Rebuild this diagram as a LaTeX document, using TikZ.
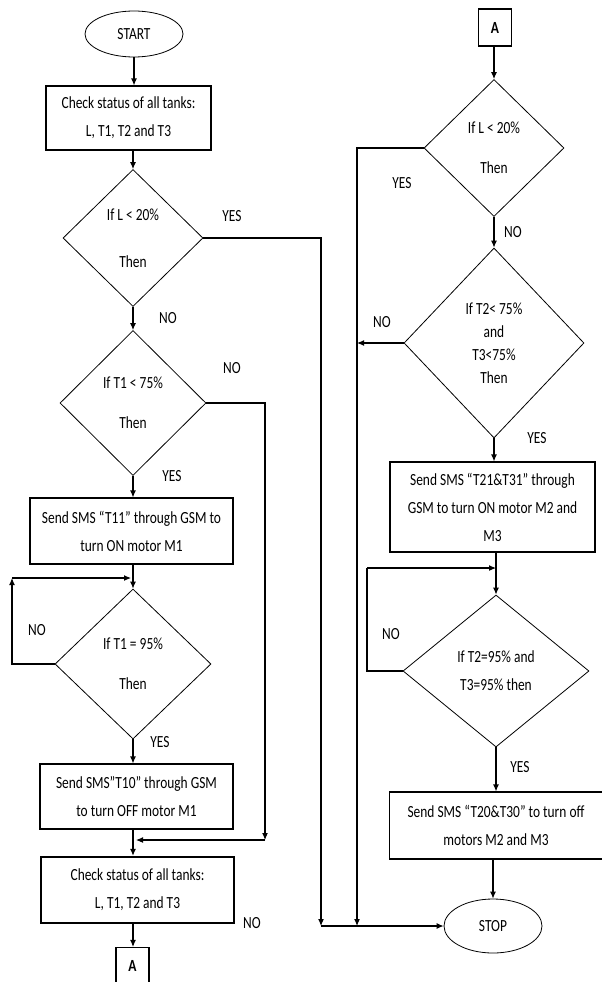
\documentclass[tikz,border=0pt]{standalone}
\usepackage{fontspec}
\setmainfont{Carlito}[FakeStretch=0.79]
\usepackage{tikz}
\usetikzlibrary{arrows.meta,positioning,calc,shapes.geometric}
\tikzset{
  flowln/.style={line width=1.1pt, line join=miter},
  arrln/.style={-{Latex[length=7pt,width=6pt]}, line width=1.1pt},
  procbox/.style={draw, line width=1.1pt, align=center, inner sep=2pt, font=\fontsize{17}{28}\selectfont},
  decide/.style={draw, diamond, line width=0.8pt, inner sep=0pt, align=center, font=\fontsize{17}{18}\selectfont},
  termin/.style={draw, ellipse, line width=0.8pt, font=\fontsize{17}{18}\selectfont},
  conbox/.style={draw, line width=1.1pt, font=\bfseries\fontsize{17}{18}\selectfont, minimum width=33pt, minimum height=37pt},
  lbl/.style={font=\fontsize{17}{18}\selectfont, inner sep=0pt},
}

\begin{document}
\begin{tikzpicture}[x=1pt, y=-1pt]
  \useasboundingbox (0,0) rectangle (602,982);
  % left column
  \node[termin, minimum width=98pt, minimum height=46pt] (start) at (134,34) {START};
  \node[procbox, minimum width=165pt, minimum height=64pt] (chk1) at (128.5,118) {Check status of all tanks:\\L, T1, T2 and T3};
  \node[decide, minimum width=140pt, minimum height=137pt] (dL1) at (133,238) {If L < 20\%\\[29pt]Then};
  \node[decide, minimum width=146pt, minimum height=145pt] (dT1a) at (133,403) {If T1 < 75\%\\[22pt]Then};
  \node[procbox, minimum width=203pt, minimum height=66pt] (smsOn1) at (131.5,531) {Send SMS “T11” through GSM to\\turn ON motor M1};
  \node[decide, minimum width=156pt, minimum height=150pt] (dT1b) at (133,664) {If T1 = 95\%\\[22pt]Then};
  \node[procbox, minimum width=193pt, minimum height=65pt] (smsOff1) at (136.5,796.5) {Send SMS”T10” through GSM\\to turn OFF motor M1};
  \node[procbox, line width=2.4pt, minimum width=193pt, minimum height=66pt] (chk2) at (137.5,890) {Check status of all tanks:\\L, T1, T2 and T3};
  \node[conbox] (conA1) at (132.5,966) {A};
  % right column
  \node[conbox] (conA2) at (495,27.5) {A};
  \node[decide, minimum width=140pt, minimum height=137pt] (dL2) at (494,148) {If L < 20\%\\[22pt]Then};
  \node[decide, minimum width=180pt, minimum height=190pt] (dT23a) at (494,343) {If T2< 75\%\\[5pt]and\\[5pt]T3<75\%\\[5pt]Then};
  \node[procbox, minimum width=205pt, minimum height=90pt] (smsOn23) at (492.5,507) {Send SMS “T21\&T31” through\\GSM to turn ON motor M2 and\\M3};
  \node[decide, minimum width=186pt, minimum height=152pt] (dT23b) at (496,671) {If T2=95\% and\\[10pt]T3=95\% then};
  \node[procbox, minimum width=213pt, minimum height=67pt] (smsOff23) at (496,825.5) {Send SMS “T20\&T30” to turn off\\motors M2 and M3};
  \node[termin, minimum width=98pt, minimum height=54pt] (stop) at (493,926) {STOP};

  \coordinate (loopL) at (12,578);
  \coordinate (mergeL) at (265,840);
  \coordinate (yesL) at (321,926);
  \coordinate (loopR) at (367,568);
  \coordinate (yesR) at (357,926);

  \draw[arrln] (start.south) -- (start.south |- chk1.north);
  \draw[arrln] (dL1.north |- chk1.south) -- (dL1.north);
  \draw[arrln] (dL1.south) -- (dT1a.north);
  \draw[arrln] (dT1a.south) -- (dT1a.south |- smsOn1.north);
  \draw[arrln] (dT1b.north |- smsOn1.south) -- (dT1b.north);
  \draw[arrln] (dT1b.west) -| (loopL);
  \draw[arrln] (loopL) -- ($(loopL -| dT1b.north)+(-2,0)$);
  \draw[arrln] (dT1b.south) -- (dT1b.south |- smsOff1.north);
  \draw[arrln] (dT1b.south |- smsOff1.south) -- (dT1b.south |- chk2.north);
  \draw[arrln] (dT1a.east) -| (mergeL);
  \draw[arrln] (mergeL) -- ($(mergeL -| dT1b.south)+(3,0)$);
  \draw[arrln] (dT1b.south |- chk2.south) -- (dT1b.south |- conA1.north);
  \draw[arrln] (dL1.east) -| (yesL);
  \draw[arrln] (yesL) -- (yesL -| stop.west);

  \draw[arrln] (dL2.north |- conA2.south) -- (dL2.north);
  \draw[arrln] (dL2.south) -- (dT23a.north);
  \draw[arrln] (dT23a.south) -- (dT23a.south |- smsOn23.north);
  \draw[arrln] (dT23b.north |- smsOn23.south) -- (dT23b.north);
  \draw[flowln] (dT23b.west) -| (loopR);
  \draw[arrln] (loopR) -- (loopR -| dT23b.north);
  \draw[arrln] (dT23b.south) -- (dT23b.south |- smsOff23.north);
  \draw[arrln] (stop.north |- smsOff23.south) -- (stop.north);
  \draw[arrln] (dL2.west) -| (yesR);
  \draw[arrln] (dT23a.west) -- (dT23a.west -| yesR);

  \node[lbl] (yes1) at (232,216) {YES};
  \node[lbl] (no1) at (168,318) {NO};
  \node[lbl] (no2) at (232,368) {NO};
  \node[lbl] (yes2) at (172,476) {YES};
  \node[lbl] (no3) at (37,630) {NO};
  \node[lbl] (yes3) at (160,742) {YES};
  \node[lbl] (no4) at (252,923) {NO};
  \node[lbl] (yes4) at (402,183) {YES};
  \node[lbl] (no5) at (513,232) {NO};
  \node[lbl] (no6) at (382,322) {NO};
  \node[lbl] (yes5) at (537,438) {YES};
  \node[lbl] (no7) at (391,634) {NO};
  \node[lbl] (yes6) at (520,767) {YES};
\end{tikzpicture}
\end{document}
